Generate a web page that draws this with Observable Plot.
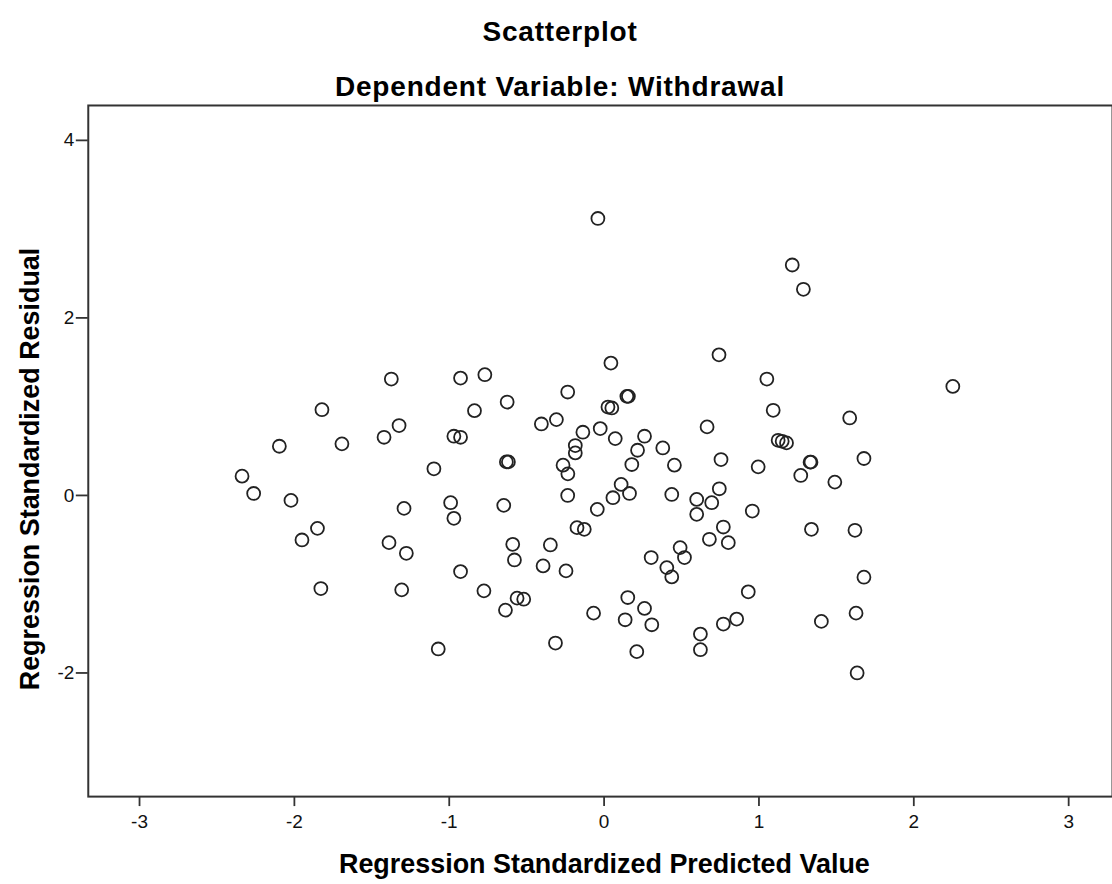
<!DOCTYPE html>
<html><head><meta charset="utf-8">
<script src="https://cdn.jsdelivr.net/npm/d3@7"></script>
<script src="https://cdn.jsdelivr.net/npm/@observablehq/plot@0.6"></script>
<style>
html,body{margin:0;padding:0;background:#fff;overflow:hidden;width:1112px;height:884px}
#header{position:relative;height:100px;font-family:"Liberation Sans",Arial,sans-serif;font-weight:bold;color:#000}
.t{position:absolute;left:0;width:1120px;text-align:center;line-height:1;white-space:nowrap;letter-spacing:0.8px}
#chart svg{display:block}
</style></head><body>
<div id="header">
  <div class="t" id="title" style="top:18px;font-size:28px">Scatterplot</div>
  <div class="t" id="subtitle" style="top:73px;font-size:28px">Dependent Variable: Withdrawal</div>
</div>
<div id="chart"></div>
<script>
const predicted = [-2.338,-2.263,-2.097,-2.022,-1.951,-1.851,-1.822,-1.829,-1.693,-1.421,-1.389,-1.374,-1.324,-1.292,-1.277,-1.307,-1.099,-1.071,-0.991,-0.970,-0.970,-0.927,-0.927,-0.927,-0.837,-0.770,-0.776,-0.648,-0.626,-0.637,-0.631,-0.618,-0.590,-0.579,-0.562,-0.519,-0.405,-0.394,-0.347,-0.308,-0.314,-0.265,-0.246,-0.235,-0.234,-0.235,-0.186,-0.186,-0.175,-0.128,-0.137,-0.068,-0.040,-0.025,-0.044,0.025,0.050,0.044,0.057,0.072,0.110,0.147,0.157,0.164,0.179,0.216,0.261,0.153,0.136,0.211,0.261,0.304,0.308,0.379,0.405,0.437,0.437,0.454,0.491,0.519,0.598,0.598,0.622,0.622,0.665,0.680,0.695,0.742,0.744,0.755,0.770,0.770,0.802,0.856,0.931,0.957,0.995,1.051,1.092,1.124,1.150,1.178,1.215,1.270,1.287,1.330,1.336,1.339,1.403,1.490,1.586,1.620,1.627,1.634,1.678,1.678,2.252];
const residual = [0.217,0.022,0.554,-0.056,-0.502,-0.371,0.966,-1.049,0.581,0.655,-0.532,1.311,0.787,-0.146,-0.652,-1.064,0.300,-1.730,-0.082,-0.258,0.667,0.655,1.322,-0.858,0.955,1.360,-1.075,-0.112,1.052,-1.292,0.378,0.378,-0.551,-0.727,-1.157,-1.169,0.805,-0.794,-0.558,0.854,-1.663,0.341,-0.850,0.000,0.243,1.165,0.562,0.479,-0.363,-0.382,0.712,-1.326,3.120,0.753,-0.157,0.996,0.985,1.491,-0.026,0.640,0.124,1.116,1.116,0.022,0.348,0.509,0.667,-1.150,-1.401,-1.760,-1.273,-0.700,-1.457,0.535,-0.813,-0.918,0.011,0.341,-0.588,-0.700,-0.045,-0.213,-1.562,-1.738,0.772,-0.494,-0.082,1.584,0.075,0.404,-0.356,-1.449,-0.532,-1.393,-1.086,-0.176,0.322,1.311,0.959,0.621,0.610,0.592,2.596,0.225,2.322,0.375,0.375,-0.382,-1.419,0.150,0.873,-0.393,-1.326,-2.000,0.416,-0.921,1.228];
const xTicks = [-3,-2,-1,0,1,2,3];
const yTicks = [-2,0,2,4];
const xLabel = "Regression Standardized Predicted Value";
const yLabel = "Regression Standardized Residual";

const data = predicted.map((p, i) => ({p, r: residual[i]}));
const font = "'Liberation Sans', Arial, sans-serif";

const chart = Plot.plot({
  width: 1115, height: 784,
  marginLeft: 88, marginRight: 0, marginTop: 5, marginBottom: 86,
  style: {fontFamily: font, fontSize: "19px", color: "#111", background: "#fff", overflow: "visible"},
  x: {domain: [-3.331, 3.283]},
  y: {domain: [-3.393, 4.393]},
  marks: [
    Plot.frame({stroke: "#333", strokeWidth: 2}),
    Plot.axisX({ticks: xTicks, tickSize: 10, tickPadding: 8, label: null, tickFormat: d => String(d), stroke: "#333", strokeWidth: 1.8, fill: "#111"}),
    Plot.axisY({ticks: yTicks, tickSize: 12, tickPadding: 2, label: null, tickFormat: d => String(d), stroke: "#333", strokeWidth: 1.8, fill: "#111"}),
    Plot.dot(data, {x: "p", y: "r", r: 6.5, stroke: "#222", strokeWidth: 1.8, fill: "none"}),
    Plot.text([xLabel], {frameAnchor: "bottom", dx: 4, dy: 68, text: d => d, fontSize: 27, fontWeight: "bold", fill: "#000", textAnchor: "middle", lineAnchor: "middle"}),
    Plot.text([yLabel], {frameAnchor: "left", dx: -58, dy: 18, rotate: -90, text: d => d, fontSize: 27, fontWeight: "bold", fill: "#000", textAnchor: "middle", lineAnchor: "middle"})
  ]
});
document.getElementById("chart").appendChild(chart);
</script>
</body></html>
